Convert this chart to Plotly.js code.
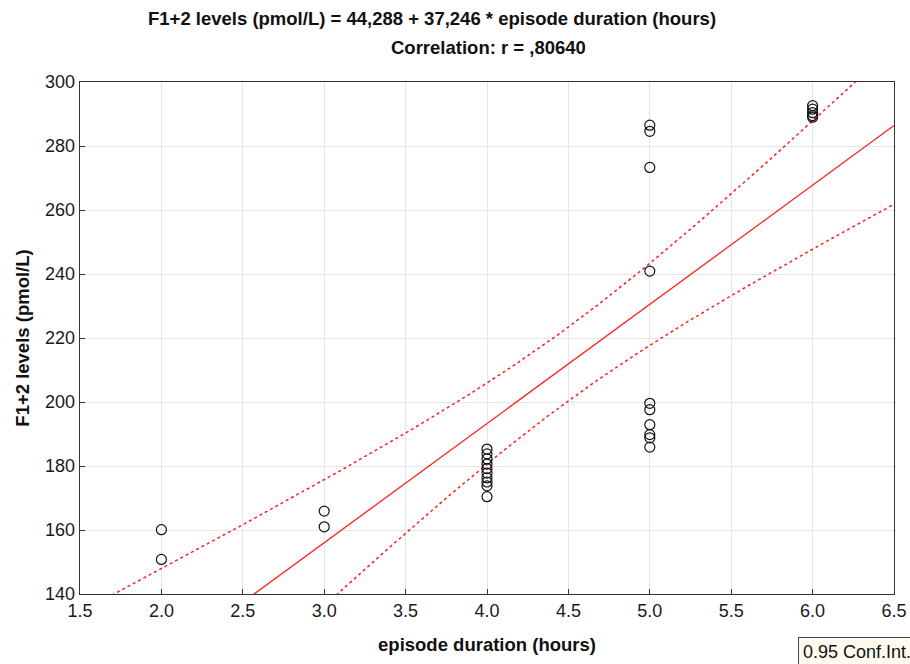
<!DOCTYPE html>
<html>
<head>
<meta charset="utf-8">
<script src="https://cdn.plot.ly/plotly-3.0.1.min.js"></script>
<style>html,body{margin:0;padding:0;background:#fff;}#chart{width:910px;height:664px;}</style>
</head>
<body>
<div id="chart"></div>
<script>
// Data
const durationHours = [
  2, 2,
  3, 3,
  4, 4, 4, 4, 4, 4, 4, 4, 4, 4,
  5, 5, 5, 5, 5, 5, 5, 5, 5, 5,
  6, 6, 6, 6, 6
];
const f12Levels = [
  160.1, 150.8,
  165.9, 161.0,
  185.3, 183.8, 182.2, 180.6, 179.2, 177.8, 176.3, 175.0, 173.8, 170.4,
  286.5, 284.6, 273.3, 240.9, 199.6, 197.6, 192.9, 189.8, 188.8, 185.9,
  292.6, 291.5, 290.4, 289.5, 289.0
];
const intercept = 44.288;
const slope = 37.246;
const confLevel = 0.95;
const tCrit = 2.052; // t(0.975, df = n-2)
const xTicks = [1.5, 2.0, 2.5, 3.0, 3.5, 4.0, 4.5, 5.0, 5.5, 6.0, 6.5];
const yTicks = [140, 160, 180, 200, 220, 240, 260, 280, 300];

// Regression statistics
const n = durationHours.length;
const xbar = durationHours.reduce((a, b) => a + b, 0) / n;
let sxx = 0, sse = 0;
for (let i = 0; i < n; i++) {
  sxx += (durationHours[i] - xbar) ** 2;
  const r = f12Levels[i] - (intercept + slope * durationHours[i]);
  sse += r * r;
}
const s = Math.sqrt(sse / (n - 2));

const gx = [], gFit = [], gUp = [], gLo = [];
for (let k = 0; k <= 200; k++) {
  const x = xTicks[0] + (xTicks[xTicks.length - 1] - xTicks[0]) * k / 200;
  const fit = intercept + slope * x;
  const hw = tCrit * s * Math.sqrt(1 / n + (x - xbar) ** 2 / sxx);
  gx.push(x); gFit.push(fit); gUp.push(fit + hw); gLo.push(fit - hw);
}

const FONT = 'Liberation Sans, Arial, sans-serif';
const traces = [
  {x: gx, y: gUp, mode: 'lines', line: {color: '#ff2020', width: 1.5, dash: 'dot'}, hoverinfo: 'skip'},
  {x: gx, y: gLo, mode: 'lines', line: {color: '#ff2020', width: 1.5, dash: 'dot'}, hoverinfo: 'skip'},
  {x: gx, y: gFit, mode: 'lines', line: {color: '#ff2020', width: 1.3}, hoverinfo: 'skip'},
  {x: durationHours, y: f12Levels, mode: 'markers',
   marker: {symbol: 'circle-open', size: 10, color: '#111', line: {width: 1.2, color: '#111'}}}
];

const layout = {
  width: 910, height: 664,
  margin: {l: 80, r: 16, t: 82, b: 70},
  paper_bgcolor: '#fff', plot_bgcolor: '#fff',
  showlegend: false,
  font: {family: FONT, size: 18, color: '#1a1a1a'},
  xaxis: {
    range: [1.5, 6.5], tickvals: xTicks, ticktext: xTicks.map(v => v.toFixed(1)),
    ticks: 'inside', ticklen: 5, tickcolor: '#333', showline: true, linecolor: '#333', linewidth: 1.3,
    mirror: true, showgrid: true, gridcolor: '#e6e6e6', zeroline: false,
    tickfont: {family: FONT, size: 18, color: '#1a1a1a'},
    title: {text: '<b>episode duration (hours)</b>', font: {family: FONT, size: 18.5, color: '#111'}, standoff: 18}
  },
  yaxis: {
    range: [140, 300], tickvals: yTicks,
    ticks: 'inside', ticklen: 5, tickcolor: '#333', showline: true, linecolor: '#333', linewidth: 1.3,
    mirror: true, showgrid: true, gridcolor: '#e6e6e6', zeroline: false,
    tickfont: {family: FONT, size: 18, color: '#1a1a1a'},
    title: {text: '<b>F1+2 levels (pmol/L)</b>', font: {family: FONT, size: 18.5, color: '#111'}, standoff: 10}
  },
  annotations: [
    {text: '<b>F1+2 levels (pmol/L) = 44,288 + 37,246 * episode duration (hours)</b>',
     xref: 'paper', yref: 'paper', x: (432 - 80) / 814, y: 1, yshift: 64, xanchor: 'center', yanchor: 'middle',
     showarrow: false, font: {family: FONT, size: 18.5, color: '#111'}},
    {text: '<b>Correlation: r = ,80640</b>',
     xref: 'paper', yref: 'paper', x: (488 - 80) / 814, y: 1, yshift: 35, xanchor: 'center', yanchor: 'middle',
     showarrow: false, font: {family: FONT, size: 18.5, color: '#111'}},
    {text: confLevel.toFixed(2) + ' Conf.Int.',
     xref: 'paper', yref: 'paper', x: 1, y: 0, xshift: 22, yshift: -43, xanchor: 'right', yanchor: 'top',
     showarrow: false, font: {family: FONT, size: 18, color: '#111'},
     bgcolor: '#fffaf0', bordercolor: '#444', borderwidth: 1, borderpad: 4}
  ]
};

Plotly.newPlot('chart', traces, layout, {displayModeBar: false, staticPlot: true});
</script>
</body>
</html>
